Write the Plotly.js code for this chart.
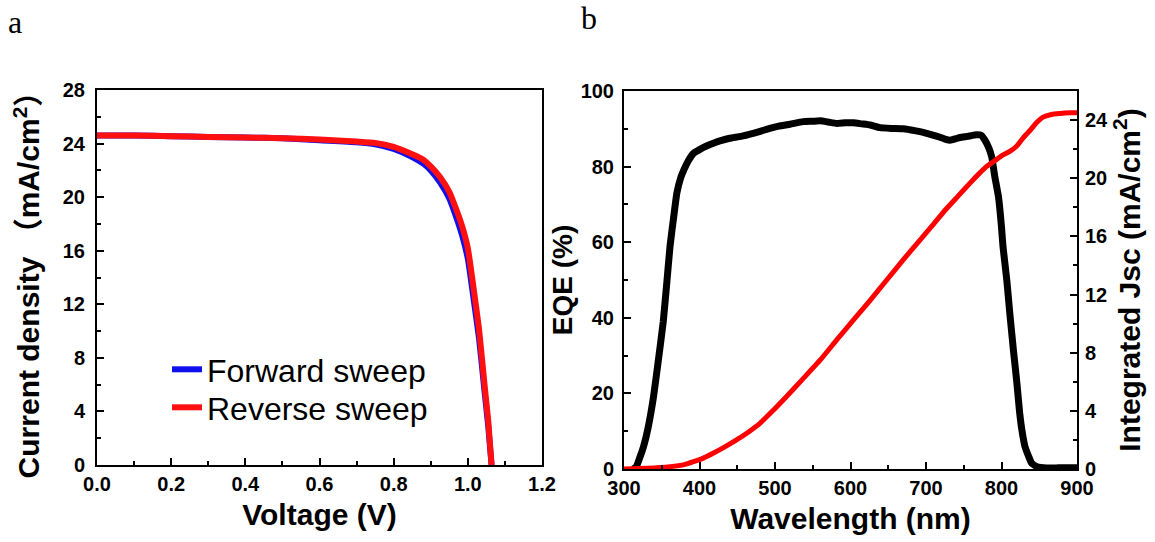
<!DOCTYPE html>
<html>
<head>
<meta charset="utf-8">
<script src="https://cdn.plot.ly/plotly-3.0.1.min.js"></script>
<style>html,body{margin:0;padding:0;background:#fff;}#chart{width:1155px;height:542px;}</style>
</head>
<body>
<div id="chart"></div>
<script>
// ---- Panel a: J-V curves ----
const voltage = [0, 0.1, 0.2, 0.3, 0.4, 0.5, 0.6, 0.7, 0.75, 0.8, 0.85, 0.88, 0.9, 0.925, 0.95, 0.97, 0.985, 1.0, 1.015, 1.03, 1.045, 1.055, 1.064];
const jForward = [24.6, 24.6, 24.55, 24.5, 24.45, 24.4, 24.25, 24.1, 23.95, 23.6, 23.0, 22.5, 22.0, 21.1, 19.9, 18.4, 17.1, 15.4, 12.5, 9.5, 5.5, 2.9, 0];
const jReverse = [24.6, 24.6, 24.55, 24.5, 24.45, 24.4, 24.3, 24.15, 24.05, 23.75, 23.2, 22.8, 22.3, 21.5, 20.4, 19.0, 17.8, 16.2, 13.3, 10.2, 6.0, 3.3, 0];
const seriesNames = ["Forward sweep", "Reverse sweep"];

// ---- Panel b: EQE and integrated Jsc ----
const eqeWavelength = [312, 316, 320, 326, 332, 339, 345, 352, 357, 361, 366, 370, 375, 379, 385, 392, 400, 410, 420, 427, 440, 455, 471, 483, 493, 505, 520, 537, 550, 560, 570, 582, 593, 604, 615, 626, 639, 655, 670, 685, 701, 715, 725, 732, 740, 745, 755, 767, 773, 778, 783, 787, 791, 796, 800, 802, 807, 811, 816, 820, 824, 827, 831, 836, 840, 847, 860, 875, 890, 900];
const eqe = [0, 0.5, 2.5, 6, 11, 19, 28, 39, 50, 59, 67, 73, 77, 79, 81.5, 83.5, 84.5, 85.5, 86.3, 86.8, 87.5, 88, 88.8, 89.5, 90.1, 90.7, 91.2, 91.9, 92, 92.1, 91.8, 91.4, 91.6, 91.6, 91.3, 91, 90.3, 90.1, 90, 89.5, 88.8, 88, 87.3, 87, 87.4, 87.7, 88, 88.4, 88.3, 87, 85, 82.6, 77.5, 72, 64, 58.8, 50, 41.2, 31, 23.5, 15, 10.3, 6, 3.3, 1.5, 0.6, 0.3, 0.3, 0.3, 0.3];
const jscWavelength = [300, 330, 361, 380, 392, 405, 418, 433, 449, 465, 480, 497, 515, 537, 560, 582, 604, 626, 648, 670, 692, 710, 727, 743, 758, 770, 780, 791, 802, 811, 820, 829, 838, 846, 855, 866, 877, 890, 900];
const integratedJsc = [0, 0.05, 0.16, 0.3, 0.5, 0.75, 1.08, 1.5, 2.0, 2.55, 3.14, 4.0, 4.97, 6.2, 7.5, 8.9, 10.25, 11.6, 13.0, 14.4, 15.75, 16.85, 17.9, 18.8, 19.65, 20.3, 20.8, 21.2, 21.6, 21.85, 22.2, 22.8, 23.3, 23.8, 24.2, 24.38, 24.45, 24.5, 24.5];

const W = 1155, H = 542;
const px = v => v / W;
const py = v => 1 - v / H;

const sans = "Liberation Sans, Arial, Noto Sans CJK SC, sans-serif";
const tickFont = {family: sans, size: 20, color: "#000", weight: 700};
const titleFont = {family: sans, size: 30, color: "#000", weight: 700};
const legendFont = {family: sans, size: 32, color: "#000"};

function axisBase(extra) {
  return Object.assign({
    showgrid: false, zeroline: false, showline: true, linecolor: "#000", linewidth: 2,
    ticks: "inside", ticklen: 7, tickwidth: 2, tickcolor: "#000",
    tickfont: tickFont, automargin: false, fixedrange: true
  }, extra);
}

const traces = [
  {x: voltage, y: jForward, name: seriesNames[0], type: "scatter", mode: "lines", legend: "legend",
   line: {color: "#1010ee", width: 6, shape: "spline", smoothing: 0.5}, xaxis: "x", yaxis: "y"},
  {x: voltage, y: jReverse, name: seriesNames[1], type: "scatter", mode: "lines", legend: "legend2",
   line: {color: "#ff1010", width: 6, shape: "spline", smoothing: 0.5}, xaxis: "x", yaxis: "y"},
  {x: eqeWavelength, y: eqe, name: "EQE", type: "scatter", mode: "lines", showlegend: false,
   line: {color: "#000", width: 7, shape: "spline", smoothing: 0.4}, xaxis: "x2", yaxis: "y2"},
  {x: jscWavelength, y: integratedJsc, name: "Integrated Jsc", type: "scatter", mode: "lines", showlegend: false,
   line: {color: "#ff0000", width: 5, shape: "spline", smoothing: 0.5}, xaxis: "x2", yaxis: "y3"}
];

const layout = {
  width: W, height: H, autosize: false,
  margin: {l: 0, r: 0, t: 0, b: 0},
  paper_bgcolor: "#fff", plot_bgcolor: "#fff",
  showlegend: true,
  legend: {x: px(167), y: py(342), xanchor: "left", yanchor: "top",
           bgcolor: "rgba(0,0,0,0)", borderwidth: 0, font: legendFont},
  legend2: {x: px(167), y: py(380), xanchor: "left", yanchor: "top",
           bgcolor: "rgba(0,0,0,0)", borderwidth: 0, font: legendFont},
  xaxis: axisBase({domain: [px(97), px(542)], anchor: "y", range: [0, 1.2], dtick: 0.2, tick0: 0,
    tickformat: ".1f", mirror: true,
    minor: {dtick: 0.1, ticks: "inside", ticklen: 4, tickwidth: 2, tickcolor: "#000"},
    title: {text: "Voltage (V)", font: titleFont, standoff: 10}}),
  yaxis: axisBase({domain: [1 - 465 / H, 1 - 90 / H], anchor: "x", range: [0, 28], dtick: 4, tick0: 0,
    mirror: true, ticklabelstandoff: 6,
    minor: {dtick: 2, ticks: "inside", ticklen: 4, tickwidth: 2, tickcolor: "#000"},
    title: {text: "Current density （mA/cm<sup>2</sup>）", font: titleFont, standoff: 14}}),
  xaxis2: axisBase({domain: [px(624), px(1077)], anchor: "y2", range: [300, 900], dtick: 100, tick0: 300,
    mirror: true,
    minor: {dtick: 50, ticks: "inside", ticklen: 4, tickwidth: 2, tickcolor: "#000"},
    title: {text: "Wavelength (nm)", font: titleFont, standoff: 10}}),
  yaxis2: axisBase({domain: [1 - 469 / H, 1 - 91 / H], anchor: "x2", range: [0, 100], dtick: 20, tick0: 0,
    ticklabelstandoff: 4,
    minor: {dtick: 10, ticks: "inside", ticklen: 4, tickwidth: 2, tickcolor: "#000"},
    title: {text: "EQE (%)", font: Object.assign({}, titleFont, {size: 28}), standoff: 0}}),
  yaxis3: axisBase({overlaying: "y2", side: "right", anchor: "x2", range: [0, 26], dtick: 4, tick0: 0,
    ticklabelstandoff: 2,
    minor: {dtick: 2, ticks: "inside", ticklen: 4, tickwidth: 2, tickcolor: "#000"},
    title: {text: "Integrated Jsc (mA/cm<sup>2</sup>)", font: titleFont, standoff: 8}}),
  annotations: [
    {text: "a", x: px(15), y: py(22), xref: "paper", yref: "paper", xanchor: "center", yanchor: "middle",
     showarrow: false, font: {family: "Liberation Serif, Times New Roman, serif", size: 32, color: "#000"}},
    {text: "b", x: px(589), y: py(18), xref: "paper", yref: "paper", xanchor: "center", yanchor: "middle",
     showarrow: false, font: {family: "Liberation Serif, Times New Roman, serif", size: 32, color: "#000"}}
  ]
};

Plotly.newPlot("chart", traces, layout, {staticPlot: true, displayModeBar: false});
</script>
</body>
</html>
